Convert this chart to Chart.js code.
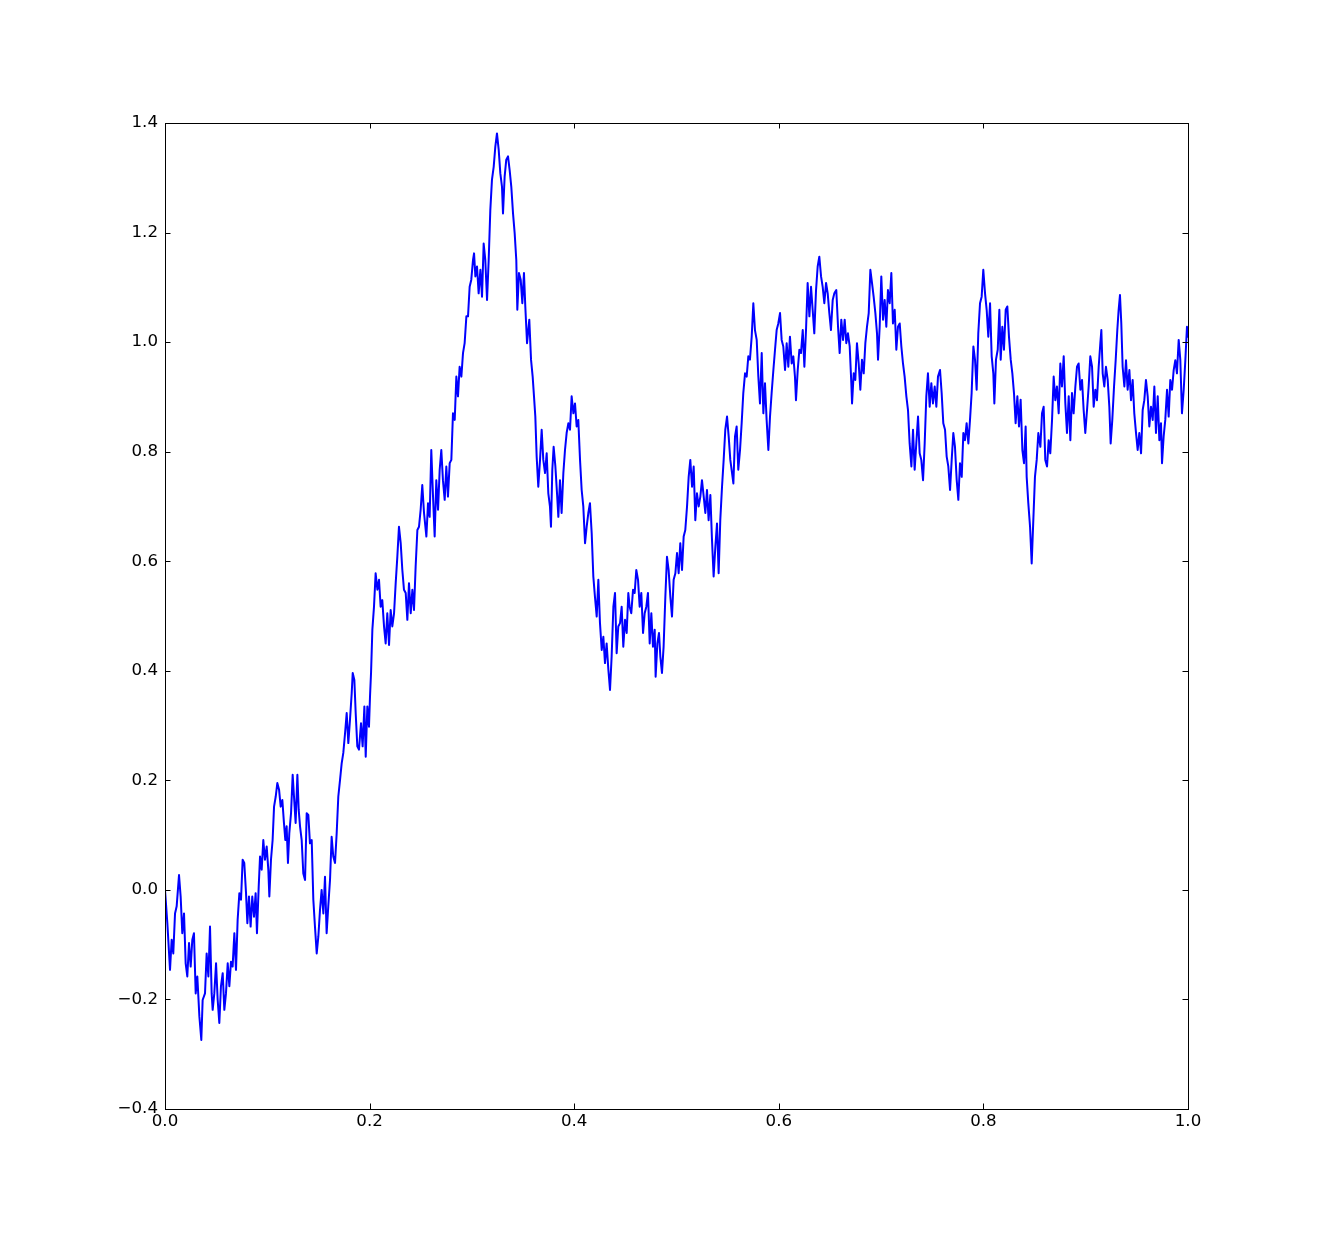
<!DOCTYPE html>
<html>
<head>
<meta charset="utf-8">
<script src="https://cdn.jsdelivr.net/npm/chart.js@4.4.1/dist/chart.umd.min.js"></script>
<style>
  html, body { margin: 0; padding: 0; background: #fff; }
  canvas { display: block; }
</style>
</head>
<body>
<canvas id="myChart" width="1320" height="1233"></canvas>
<script>
// path, x in [0,1]
var pathX = [
  0.0000, 0.0023, 0.0049, 0.0065, 0.0081, 0.0098, 0.0114, 0.0137, 0.0153, 0.0169,
  0.0186, 0.0202, 0.0218, 0.0235, 0.0251, 0.0267, 0.0283, 0.0300, 0.0316, 0.0336,
  0.0355, 0.0368, 0.0391, 0.0407, 0.0424, 0.0440, 0.0456, 0.0466, 0.0482, 0.0499,
  0.0515, 0.0531, 0.0547, 0.0564, 0.0580, 0.0596, 0.0613, 0.0629, 0.0645, 0.0661,
  0.0678, 0.0694, 0.0710, 0.0727, 0.0743, 0.0759, 0.0775, 0.0792, 0.0805, 0.0821,
  0.0837, 0.0853, 0.0870, 0.0886, 0.0899, 0.0916, 0.0929, 0.0945, 0.0961, 0.0977,
  0.0994, 0.1010, 0.1020, 0.1036, 0.1052, 0.1066, 0.1082, 0.1098, 0.1115, 0.1131,
  0.1147, 0.1163, 0.1176, 0.1189, 0.1202, 0.1215, 0.1232, 0.1248, 0.1261, 0.1277,
  0.1294, 0.1307, 0.1320, 0.1336, 0.1352, 0.1369, 0.1385, 0.1401, 0.1417, 0.1434,
  0.1450, 0.1466, 0.1483, 0.1499,
  0.1515, 0.1531, 0.1548, 0.1564, 0.1580, 0.1596, 0.1613, 0.1629, 0.1645, 0.1662,
  0.1678, 0.1694, 0.1711, 0.1727, 0.1743, 0.1760, 0.1776, 0.1792, 0.1808, 0.1825,
  0.1835, 0.1851, 0.1864, 0.1880, 0.1896, 0.1916, 0.1932, 0.1949, 0.1962, 0.1978,
  0.1994, 0.2004, 0.2014, 0.2027, 0.2043, 0.2059, 0.2076, 0.2092, 0.2108, 0.2124,
  0.2141, 0.2157, 0.2173, 0.2190, 0.2206, 0.2222, 0.2239, 0.2255, 0.2271, 0.2287,
  0.2304, 0.2320, 0.2336, 0.2353, 0.2369, 0.2385, 0.2402, 0.2418, 0.2434, 0.2450,
  0.2467, 0.2483, 0.2499, 0.2515, 0.2532,
  0.2555, 0.2571, 0.2587, 0.2603, 0.2620, 0.2636, 0.2652, 0.2669, 0.2685, 0.2701,
  0.2717, 0.2734, 0.2750, 0.2766, 0.2783, 0.2799, 0.2815, 0.2832, 0.2848, 0.2864,
  0.2880, 0.2897, 0.2913, 0.2929, 0.2946, 0.2962, 0.2978, 0.2994, 0.3011, 0.3021,
  0.3034, 0.3050, 0.3066, 0.3083, 0.3099, 0.3115, 0.3131, 0.3148, 0.3164, 0.3180,
  0.3196, 0.3213, 0.3229, 0.3245, 0.3262, 0.3278, 0.3294, 0.3304, 0.3320, 0.3336,
  0.3353, 0.3369, 0.3385, 0.3402, 0.3418, 0.3434, 0.3444, 0.3460, 0.3477, 0.3493,
  0.3509, 0.3522, 0.3539,
  0.3561, 0.3578, 0.3594, 0.3607, 0.3620, 0.3633, 0.3649, 0.3666, 0.3682, 0.3698,
  0.3715, 0.3731, 0.3747, 0.3763, 0.3773, 0.3786, 0.3799, 0.3816, 0.3832, 0.3845,
  0.3861, 0.3877, 0.3894, 0.3910, 0.3926, 0.3943, 0.3959, 0.3975, 0.3992, 0.4008,
  0.4024, 0.4040, 0.4057, 0.4073, 0.4089, 0.4106, 0.4122, 0.4138, 0.4154, 0.4171,
  0.4187, 0.4203, 0.4220, 0.4236, 0.4252, 0.4269, 0.4285, 0.4301, 0.4317, 0.4334,
  0.4350, 0.4366, 0.4383, 0.4399, 0.4415, 0.4431, 0.4448, 0.4464, 0.4480, 0.4497,
  0.4513, 0.4529,
  0.4542, 0.4558, 0.4575, 0.4591, 0.4607, 0.4624, 0.4640, 0.4656, 0.4673, 0.4689,
  0.4705, 0.4721, 0.4738, 0.4754, 0.4770, 0.4787, 0.4796, 0.4813, 0.4829, 0.4842,
  0.4858, 0.4874, 0.4891, 0.4907, 0.4923, 0.4940, 0.4956, 0.4972, 0.4989, 0.5005,
  0.5021, 0.5037, 0.5054, 0.5070, 0.5086, 0.5103, 0.5119, 0.5135, 0.5152, 0.5168,
  0.5184, 0.5200, 0.5217, 0.5233, 0.5249, 0.5266, 0.5282, 0.5298, 0.5314, 0.5331,
  0.5347, 0.5363, 0.5380, 0.5396, 0.5412, 0.5428, 0.5445, 0.5461, 0.5477, 0.5494,
  0.5510, 0.5526, 0.5543,
  0.5556, 0.5572, 0.5588, 0.5604, 0.5621, 0.5637, 0.5653, 0.5670, 0.5686, 0.5702,
  0.5718, 0.5735, 0.5751, 0.5767, 0.5784, 0.5800, 0.5816, 0.5833, 0.5849, 0.5865,
  0.5881, 0.5898, 0.5914, 0.5930, 0.5947, 0.5963, 0.5979, 0.5995, 0.6012, 0.6028,
  0.6044, 0.6061, 0.6077, 0.6093, 0.6109, 0.6126, 0.6142, 0.6158, 0.6168, 0.6185,
  0.6201, 0.6217, 0.6234, 0.6250, 0.6266, 0.6282, 0.6299, 0.6315, 0.6331, 0.6347,
  0.6364, 0.6380, 0.6396, 0.6413, 0.6429, 0.6445, 0.6462, 0.6478, 0.6494, 0.6510,
  0.6527, 0.6543,
  0.6562, 0.6579, 0.6595, 0.6611, 0.6628, 0.6644, 0.6660, 0.6676, 0.6693, 0.6709,
  0.6716, 0.6732, 0.6748, 0.6764, 0.6781, 0.6797, 0.6813, 0.6830, 0.6846, 0.6862,
  0.6879, 0.6895, 0.6911, 0.6927, 0.6944, 0.6960, 0.6970, 0.6986, 0.7002, 0.7019,
  0.7035, 0.7051, 0.7067, 0.7084, 0.7100, 0.7116, 0.7133, 0.7149, 0.7165, 0.7182,
  0.7198, 0.7214, 0.7230, 0.7247, 0.7263, 0.7279, 0.7296, 0.7312, 0.7328, 0.7344,
  0.7361, 0.7377, 0.7393, 0.7410, 0.7426, 0.7442, 0.7458, 0.7475, 0.7491, 0.7507,
  0.7524, 0.7540, 0.7556,
  0.7576, 0.7592, 0.7608, 0.7625, 0.7641, 0.7657, 0.7674, 0.7690, 0.7706, 0.7722,
  0.7739, 0.7755, 0.7771, 0.7788, 0.7804, 0.7820, 0.7836, 0.7853, 0.7869, 0.7885,
  0.7902, 0.7918, 0.7934, 0.7950, 0.7967, 0.7983, 0.7999, 0.8016, 0.8032, 0.8048,
  0.8065, 0.8081, 0.8097, 0.8107, 0.8123, 0.8140, 0.8156, 0.8169, 0.8185, 0.8201,
  0.8218, 0.8234, 0.8250, 0.8267, 0.8283, 0.8299, 0.8315, 0.8332, 0.8348, 0.8364,
  0.8381, 0.8397, 0.8413, 0.8423, 0.8439, 0.8456, 0.8472, 0.8488, 0.8504, 0.8521,
  0.8537,
  0.8557, 0.8573, 0.8589, 0.8605, 0.8622, 0.8638, 0.8654, 0.8671, 0.8687, 0.8703,
  0.8719, 0.8736, 0.8752, 0.8768, 0.8785, 0.8801, 0.8817, 0.8834, 0.8850, 0.8866,
  0.8882, 0.8899, 0.8915, 0.8931, 0.8948, 0.8964, 0.8980, 0.8996, 0.9013, 0.9029,
  0.9045, 0.9062, 0.9078, 0.9094, 0.9110, 0.9127, 0.9143, 0.9153, 0.9166, 0.9182,
  0.9198, 0.9215, 0.9231, 0.9244, 0.9260, 0.9277, 0.9293, 0.9309, 0.9322, 0.9335,
  0.9348, 0.9361, 0.9378, 0.9394, 0.9410, 0.9427, 0.9443, 0.9459, 0.9475, 0.9492,
  0.9508, 0.9524, 0.9541, 0.9557, 0.9573, 0.9589, 0.9606, 0.9622, 0.9638, 0.9655,
  0.9671, 0.9687, 0.9704, 0.9720, 0.9736, 0.9746, 0.9762, 0.9778, 0.9795, 0.9811,
  0.9827, 0.9844, 0.9860, 0.9876, 0.9892, 0.9909, 0.9925, 0.9941, 0.9958, 0.9974,
  0.9990, 1.0000
];
var pathY = [
  0.000, -0.061, -0.146, -0.091, -0.116, -0.043, -0.030, 0.027, -0.012, -0.079,
  -0.043, -0.134, -0.158, -0.097, -0.140, -0.091, -0.079, -0.189, -0.158, -0.231,
  -0.274, -0.201, -0.189, -0.116, -0.158, -0.067, -0.189, -0.219, -0.189, -0.134,
  -0.201, -0.243, -0.176, -0.152, -0.219, -0.189, -0.134, -0.176, -0.131, -0.140,
  -0.079, -0.146, -0.055, -0.006, -0.018, 0.055, 0.049, -0.006, -0.061, -0.012,
  -0.067, -0.012, -0.049, -0.006, -0.079, 0.006, 0.061, 0.037, 0.091, 0.055,
  0.079, 0.037, -0.012, 0.055, 0.091, 0.152, 0.170, 0.195, 0.183, 0.152,
  0.164, 0.122, 0.091, 0.116, 0.049, 0.103, 0.140, 0.210, 0.170, 0.122,
  0.210, 0.146, 0.116, 0.091, 0.030, 0.018, 0.140, 0.137, 0.085, 0.091,
  -0.018, -0.067, -0.116, -0.085,
  -0.037, 0.000, -0.043, 0.024, -0.079, -0.030, 0.018, 0.097, 0.061, 0.049,
  0.103, 0.170, 0.201, 0.231, 0.250, 0.286, 0.323, 0.268, 0.310, 0.359,
  0.396, 0.383, 0.323, 0.262, 0.256, 0.304, 0.262, 0.335, 0.243, 0.335,
  0.298, 0.353, 0.396, 0.475, 0.517, 0.578, 0.548, 0.566, 0.517, 0.529,
  0.481, 0.450, 0.505, 0.447, 0.511, 0.481, 0.505, 0.560, 0.608, 0.663,
  0.633, 0.584, 0.548, 0.542, 0.493, 0.560, 0.505, 0.548, 0.511, 0.590,
  0.657, 0.663, 0.694, 0.739, 0.688,
  0.645, 0.706, 0.681, 0.803, 0.718, 0.645, 0.748, 0.694, 0.767, 0.803,
  0.748, 0.712, 0.773, 0.718, 0.779, 0.785, 0.870, 0.858, 0.937, 0.901,
  0.955, 0.937, 0.980, 0.998, 1.047, 1.047, 1.101, 1.114, 1.150, 1.162,
  1.120, 1.138, 1.089, 1.132, 1.083, 1.180, 1.150, 1.077, 1.150, 1.241,
  1.296, 1.320, 1.357, 1.381, 1.351, 1.308, 1.284, 1.235, 1.302, 1.333,
  1.339, 1.314, 1.284, 1.235, 1.199, 1.150, 1.059, 1.126, 1.114, 1.071,
  1.126, 1.065, 0.998,
  1.041, 0.968, 0.937, 0.901, 0.864, 0.791, 0.736, 0.785, 0.840, 0.785,
  0.761, 0.797, 0.724, 0.700, 0.663, 0.767, 0.809, 0.773, 0.724, 0.681,
  0.748, 0.688, 0.761, 0.803, 0.834, 0.852, 0.840, 0.901, 0.870, 0.888,
  0.846, 0.858, 0.785, 0.730, 0.700, 0.633, 0.663, 0.688, 0.706, 0.651,
  0.572, 0.535, 0.499, 0.566, 0.487, 0.438, 0.462, 0.414, 0.450, 0.402,
  0.365, 0.426, 0.517, 0.542, 0.432, 0.481, 0.487, 0.517, 0.444, 0.493,
  0.469, 0.542,
  0.517, 0.505, 0.548, 0.542, 0.584, 0.566, 0.517, 0.542, 0.469, 0.505,
  0.517, 0.542, 0.450, 0.505, 0.444, 0.475, 0.389, 0.450, 0.469, 0.426,
  0.396, 0.444, 0.535, 0.608, 0.584, 0.535, 0.499, 0.566, 0.578, 0.615,
  0.578, 0.633, 0.584, 0.645, 0.657, 0.700, 0.754, 0.785, 0.736, 0.773,
  0.675, 0.724, 0.700, 0.718, 0.748, 0.718, 0.688, 0.730, 0.675, 0.721,
  0.639, 0.572, 0.627, 0.669, 0.578, 0.675, 0.736, 0.785, 0.840, 0.864,
  0.828, 0.785, 0.761,
  0.742, 0.828, 0.846, 0.767, 0.803, 0.852, 0.907, 0.943, 0.937, 0.974,
  0.968, 1.010, 1.071, 1.022, 1.004, 0.937, 0.888, 0.980, 0.870, 0.925,
  0.858, 0.803, 0.864, 0.907, 0.949, 0.986, 1.022, 1.034, 1.053, 1.004,
  0.992, 0.949, 0.998, 0.955, 1.010, 0.961, 0.974, 0.937, 0.894, 0.949,
  0.986, 0.980, 1.022, 0.955, 1.022, 1.108, 1.047, 1.101, 1.059, 1.016,
  1.095, 1.138, 1.156, 1.120, 1.101, 1.071, 1.108, 1.089, 1.053, 1.022,
  1.077, 1.089,
  1.095, 1.028, 0.980, 1.041, 1.004, 1.041, 0.998, 1.016, 0.992, 0.925,
  0.888, 0.943, 0.931, 0.998, 0.961, 0.913, 0.968, 0.943, 0.998, 1.028,
  1.053, 1.132, 1.108, 1.083, 1.053, 1.016, 0.968, 1.028, 1.120, 1.041,
  1.077, 1.028, 1.095, 1.071, 1.126, 1.034, 1.059, 0.986, 1.028, 1.034,
  0.992, 0.961, 0.937, 0.901, 0.876, 0.815, 0.773, 0.840, 0.767, 0.815,
  0.864, 0.797, 0.785, 0.748, 0.815, 0.901, 0.943, 0.882, 0.925, 0.888,
  0.919, 0.882, 0.937,
  0.949, 0.907, 0.852, 0.840, 0.791, 0.773, 0.730, 0.785, 0.834, 0.809,
  0.748, 0.712, 0.779, 0.754, 0.834, 0.821, 0.852, 0.815, 0.858, 0.907,
  0.992, 0.968, 0.913, 1.016, 1.071, 1.083, 1.132, 1.089, 1.059, 1.010,
  1.071, 0.974, 0.943, 0.888, 0.968, 0.986, 1.059, 0.968, 1.028, 0.986,
  1.059, 1.065, 1.010, 0.968, 0.943, 0.907, 0.852, 0.901, 0.846, 0.895,
  0.803, 0.779, 0.846, 0.754, 0.706, 0.663, 0.596, 0.675, 0.754, 0.785,
  0.834,
  0.809, 0.870, 0.882, 0.785, 0.773, 0.821, 0.797, 0.858, 0.937, 0.894,
  0.919, 0.870, 0.961, 0.919, 0.974, 0.888, 0.834, 0.901, 0.821, 0.907,
  0.870, 0.919, 0.955, 0.961, 0.913, 0.931, 0.876, 0.834, 0.876, 0.919,
  0.974, 0.955, 0.882, 0.913, 0.894, 0.955, 0.998, 1.022, 0.943, 0.919,
  0.955, 0.931, 0.882, 0.815, 0.858, 0.919, 0.967, 1.022, 1.059, 1.086,
  1.034, 0.955, 0.919, 0.967, 0.913, 0.949, 0.894, 0.931, 0.870, 0.834,
  0.803, 0.834, 0.797, 0.876, 0.894, 0.931, 0.901, 0.846, 0.882, 0.858,
  0.919, 0.834, 0.901, 0.821, 0.852, 0.779, 0.828, 0.858, 0.913, 0.864,
  0.931, 0.913, 0.949, 0.967, 0.943, 1.004, 0.967, 0.870, 0.913, 0.967,
  1.028, 1.010
];

var xTicks = [0, 0.2, 0.4, 0.6, 0.8, 1.0];
var xTickLabels = ['0.0', '0.2', '0.4', '0.6', '0.8', '1.0'];
var yTicks = [-0.4, -0.2, 0, 0.2, 0.4, 0.6, 0.8, 1.0, 1.2, 1.4];
var yTickLabels = ['\u22120.4', '\u22120.2', '0.0', '0.2', '0.4', '0.6', '0.8', '1.0', '1.2', '1.4'];

var points = new Array(pathX.length);
for (var i = 0; i < pathX.length; i++) {
  points[i] = { x: pathX[i], y: pathY[i] };
}

// matplotlib-style box with inward ticks on all four sides
var frameTicks = {
  id: 'frameTicks',
  afterDatasetsDraw: function(chart) {
    var ctx = chart.ctx;
    var a = chart.chartArea;
    var sx = chart.scales.x, sy = chart.scales.y;
    var len = 5.5;
    ctx.save();
    ctx.strokeStyle = '#000';
    ctx.lineWidth = 1;
    ctx.beginPath();
    xTicks.forEach(function(v) {
      var px = Math.round(sx.getPixelForValue(v)) + 0.5;
      ctx.moveTo(px, a.bottom); ctx.lineTo(px, a.bottom - len);
      ctx.moveTo(px, a.top); ctx.lineTo(px, a.top + len);
    });
    yTicks.forEach(function(v) {
      var py = Math.round(sy.getPixelForValue(v)) + 0.5;
      ctx.moveTo(a.left, py); ctx.lineTo(a.left + len, py);
      ctx.moveTo(a.right, py); ctx.lineTo(a.right - len, py);
    });
    ctx.stroke();
    ctx.strokeRect(Math.round(a.left) + 0.5, Math.round(a.top) + 0.5,
                   Math.round(a.right - a.left), Math.round(a.bottom - a.top));
    ctx.restore();
  }
};

var tickFont = { family: 'DejaVu Sans', size: 16.67 };

var ctx = document.getElementById('myChart');
var myChart = new Chart(ctx, {
  type: 'line',
  data: {
    datasets: [{
      data: points,
      borderColor: '#0000ff',
      borderWidth: 2,
      borderJoinStyle: 'round',
      borderCapStyle: 'round',
      pointRadius: 0,
      tension: 0,
      fill: false
    }]
  },
  options: {
    responsive: false,
    animation: false,
    devicePixelRatio: 1,
    layout: { padding: { top: 123, right: 132, bottom: 0, left: 0 } },
    plugins: {
      legend: { display: false },
      tooltip: { enabled: false }
    },
    scales: {
      x: {
        type: 'linear',
        min: 0,
        max: 1,
        afterFit: function(s) { s.height = 124; },
        afterBuildTicks: function(s) {
          s.ticks = xTicks.map(function(v) { return { value: v }; });
        },
        grid: { display: false, drawTicks: false },
        border: { display: false },
        ticks: {
          color: '#000',
          font: tickFont,
          padding: 3,
          maxRotation: 0,
          autoSkip: false,
          callback: function(v, i) { return xTickLabels[i]; }
        }
      },
      y: {
        type: 'linear',
        min: -0.4,
        max: 1.4,
        afterFit: function(s) { s.width = 165; },
        afterBuildTicks: function(s) {
          s.ticks = yTicks.map(function(v) { return { value: v }; });
        },
        grid: { display: false, drawTicks: false },
        border: { display: false },
        ticks: {
          color: '#000',
          font: tickFont,
          padding: 7,
          autoSkip: false,
          callback: function(v, i) { return yTickLabels[i]; }
        }
      }
    }
  },
  plugins: [frameTicks]
});
</script>
</body>
</html>
